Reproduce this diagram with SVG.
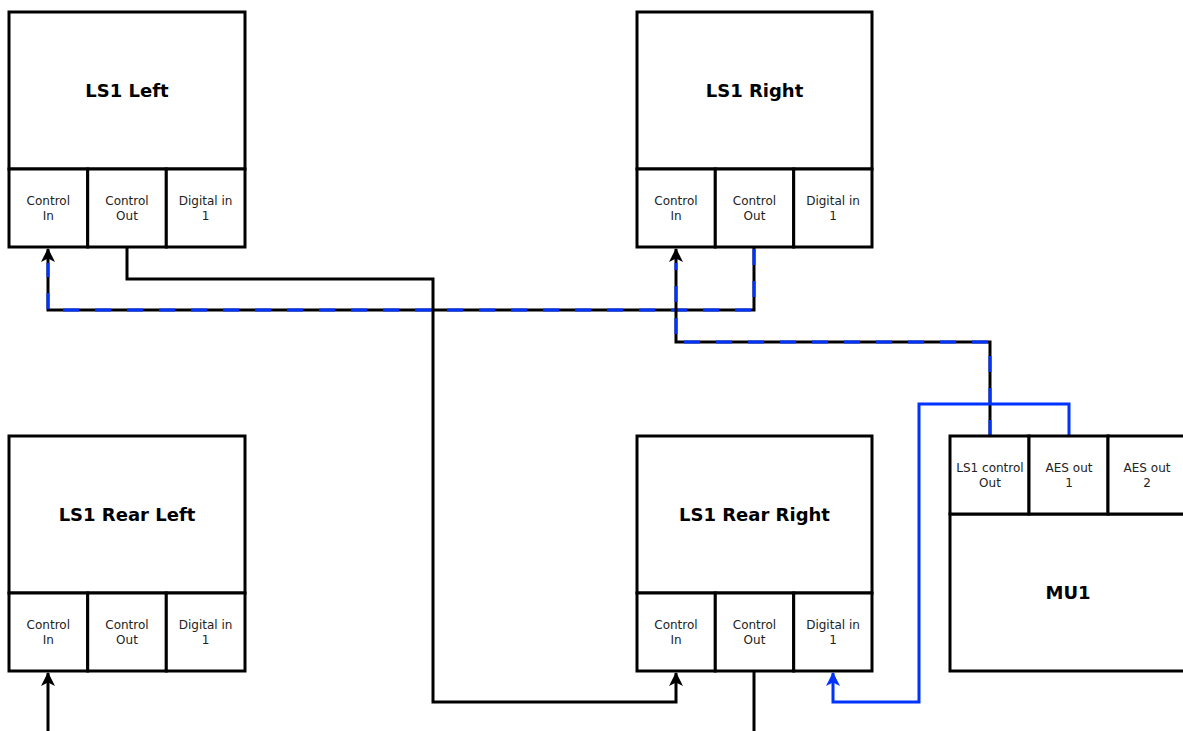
<svg xmlns="http://www.w3.org/2000/svg" width="1183" height="731" viewBox="0 0 1183 731">
<style>
.box{fill:#fff;stroke:#000;stroke-width:3}
.title{font-family:"DejaVu Sans",sans-serif;font-size:18px;font-weight:bold;text-anchor:middle;fill:#000}
.port{font-family:"DejaVu Sans",sans-serif;font-size:12px;text-anchor:middle;fill:#222}
.wire{fill:none;stroke:#000;stroke-width:3}
.blue{fill:none;stroke:#0033ff;stroke-width:3}
.dash{fill:none;stroke:#0033ff;stroke-width:3;stroke-dasharray:16 16}
</style>
<defs>
<marker id="ab" viewBox="0 0 14 14" refX="13" refY="7" markerWidth="14" markerHeight="14" markerUnits="userSpaceOnUse" orient="auto"><path d="M0,0 L14,7 L0,14 L3.5,7 Z" fill="#000"/></marker>
<marker id="abl" viewBox="0 0 14 14" refX="13" refY="7" markerWidth="14" markerHeight="14" markerUnits="userSpaceOnUse" orient="auto"><path d="M0,0 L14,7 L0,14 L3.5,7 Z" fill="#0033ff"/></marker>
</defs>
<rect width="1183" height="731" fill="#fff"/>
<g id="connectors">
<path class="wire" d="M127,247 V279 H433 V702 H676 V673" marker-end="url(#ab)"/>
<path class="wire" d="M754,247 V310 H48 V249" marker-end="url(#ab)"/>
<path class="dash" d="M754,249 V310 H48 V263"/>
<path class="wire" d="M990,436 V342 H676 V249" marker-end="url(#ab)"/>
<path class="dash" d="M990,436 V342 H676 V263"/>
<path class="blue" d="M1069,436 V404 H919 V702 H833 V673" marker-end="url(#abl)"/>
<path class="wire" d="M754,671 V731"/>
<path class="wire" d="M48,731 V673" marker-end="url(#ab)"/>
</g>
<g id="ls1-left">
<rect class="box" x="9" y="12" width="236" height="157"/>
<text class="title" x="127" y="97">LS1 Left</text>
<rect class="box" x="9" y="169" width="78.7" height="78"/>
<rect class="box" x="87.7" y="169" width="78.6" height="78"/>
<rect class="box" x="166.3" y="169" width="78.7" height="78"/>
<text class="port" x="48.3" y="205">Control</text><text class="port" x="48.3" y="220">In</text>
<text class="port" x="127" y="205">Control</text><text class="port" x="127" y="220">Out</text>
<text class="port" x="205.6" y="205">Digital in</text><text class="port" x="205.6" y="220">1</text>
</g>
<g id="ls1-right">
<rect class="box" x="637" y="12" width="235" height="157"/>
<text class="title" x="754.5" y="97">LS1 Right</text>
<rect class="box" x="637" y="169" width="78.3" height="78"/>
<rect class="box" x="715.3" y="169" width="78.4" height="78"/>
<rect class="box" x="793.7" y="169" width="78.3" height="78"/>
<text class="port" x="676" y="205">Control</text><text class="port" x="676" y="220">In</text>
<text class="port" x="754.5" y="205">Control</text><text class="port" x="754.5" y="220">Out</text>
<text class="port" x="833" y="205">Digital in</text><text class="port" x="833" y="220">1</text>
</g>
<g id="ls1-rear-left">
<rect class="box" x="9" y="436" width="236" height="157"/>
<text class="title" x="127" y="521">LS1 Rear Left</text>
<rect class="box" x="9" y="593" width="78.7" height="78"/>
<rect class="box" x="87.7" y="593" width="78.6" height="78"/>
<rect class="box" x="166.3" y="593" width="78.7" height="78"/>
<text class="port" x="48.3" y="629">Control</text><text class="port" x="48.3" y="644">In</text>
<text class="port" x="127" y="629">Control</text><text class="port" x="127" y="644">Out</text>
<text class="port" x="205.6" y="629">Digital in</text><text class="port" x="205.6" y="644">1</text>
</g>
<g id="ls1-rear-right">
<rect class="box" x="637" y="436" width="235" height="157"/>
<text class="title" x="754.5" y="521">LS1 Rear Right</text>
<rect class="box" x="637" y="593" width="78.3" height="78"/>
<rect class="box" x="715.3" y="593" width="78.4" height="78"/>
<rect class="box" x="793.7" y="593" width="78.3" height="78"/>
<text class="port" x="676" y="629">Control</text><text class="port" x="676" y="644">In</text>
<text class="port" x="754.5" y="629">Control</text><text class="port" x="754.5" y="644">Out</text>
<text class="port" x="833" y="629">Digital in</text><text class="port" x="833" y="644">1</text>
</g>
<g id="mu1">
<rect class="box" x="950" y="514" width="240" height="157"/>
<text class="title" x="1068" y="599">MU1</text>
<rect class="box" x="950" y="436" width="79" height="78"/>
<rect class="box" x="1029" y="436" width="79" height="78"/>
<rect class="box" x="1108" y="436" width="79" height="78"/>
<text class="port" x="990" y="472">LS1 control</text><text class="port" x="990" y="487">Out</text>
<text class="port" x="1069" y="472">AES out</text><text class="port" x="1069" y="487">1</text>
<text class="port" x="1147" y="472">AES out</text><text class="port" x="1147" y="487">2</text>
</g>
</svg>
